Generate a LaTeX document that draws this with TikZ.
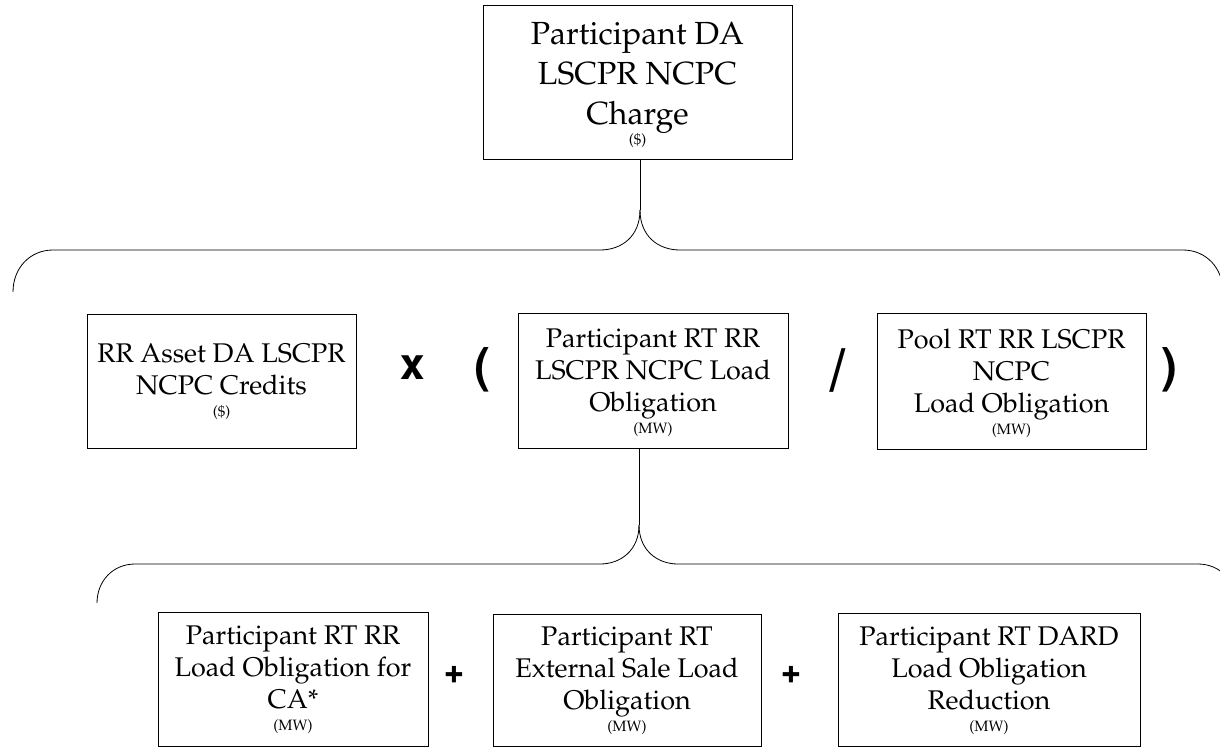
\documentclass[tikz,border=0pt]{standalone}
\usepackage[T1]{fontenc}
\renewcommand{\rmdefault}{ppl}
\newcommand{\unitlbl}[1]{{\fontsize{15}{15}\selectfont #1}}
\begin{document}
\begin{tikzpicture}[x=1pt,y=-1pt,
  box/.style={draw, line width=0.9pt, inner sep=0pt},
  txt/.style={inner sep=0pt, align=center, font=\fontsize{27}{32}\selectfont},
  toptxt/.style={txt, font=\fontsize{32}{40}\selectfont},
  opfont/.style={inner sep=0pt, font=\fontfamily{phv}\bfseries\fontsize{#1}{#1}\selectfont},
  brace/.style={line width=0.8pt}]
\useasboundingbox (0,0) rectangle (1220,747);

% top box
\node[box, minimum width=309pt, minimum height=154pt] (top) at (637.5,82) {};
\node[toptxt] (toptext) at (637.5,85)
  {Participant DA\\LSCPR NCPC\\Charge\\[-20pt]\unitlbl{(\$)}};

% row 2
\node[box, minimum width=269pt, minimum height=134pt] (a) at (221.5,381) {};
\node[txt] (atext) at (221.5,382)
  {RR Asset DA LSCPR\\NCPC Credits\\[-10pt]\unitlbl{(\$)}};
\node[box, minimum width=270pt, minimum height=135pt] (b) at (653,380.5) {};
\node[txt] (btext) at (653,383)
  {Participant RT RR\\LSCPR NCPC Load\\Obligation\\[-10pt]\unitlbl{(MW)}};
\node[box, minimum width=269pt, minimum height=136pt] (c) at (1011.5,381) {};
\node[txt] (ctext) at (1011.5,383)
  {Pool RT RR LSCPR\\NCPC\\Load Obligation\\[-10pt]\unitlbl{(MW)}};

\node[opfont=44] (times) at (412.5,367.5) {x};
\node[opfont=48] (lp) at (482,370) {(};
\node[opfont=60] (sl) at (838,370) {/};
\node[opfont=48] (rp) at (1169,370) {)};

% row 3
\node[box, minimum width=270pt, minimum height=134pt] (d) at (293,679) {};
\node[txt] (dtext) at (293,680)
  {Participant RT RR\\Load Obligation for\\CA*\\[-10pt]\unitlbl{(MW)}};
\node[box, minimum width=268pt, minimum height=132pt] (e) at (627,680) {};
\node[txt] (etext) at (627,681)
  {Participant RT\\External Sale Load\\Obligation\\[-10pt]\unitlbl{(MW)}};
\node[box, minimum width=302pt, minimum height=133pt] (f) at (989,679.5) {};
\node[txt] (ftext) at (989,681)
  {Participant RT DARD\\Load Obligation\\Reduction\\[-10pt]\unitlbl{(MW)}};

\node[opfont=34] (p1) at (454,673.5) {+};
\node[opfont=34] (p2) at (791,673.5) {+};

% upper brace
\coordinate (cusp1) at (640,210);
\draw[brace] (top.south -| cusp1) -- (cusp1);
\draw[brace] (cusp1) .. controls (640,236) and (622,250) .. (600,250) -- (53,250)
  .. controls (30,250) and (13,268) .. (13,292);
\draw[brace] (cusp1) .. controls (640,236) and (658,250) .. (680,250) -- (1183,250)
  .. controls (1206,250) and (1223,268) .. (1223,292);

% lower brace
\coordinate (cusp2) at (639,525);
\draw[brace] (b.south -| cusp2) -- (cusp2);
\draw[brace] (cusp2) .. controls (639,550) and (621,564) .. (600,564) -- (135,564)
  .. controls (113,564) and (97,581) .. (97,603);
\draw[brace] (cusp2) .. controls (639,550) and (657,564) .. (678,564) -- (1198,564)
  .. controls (1220,564) and (1236,581) .. (1236,603);
\end{tikzpicture}
\end{document}
